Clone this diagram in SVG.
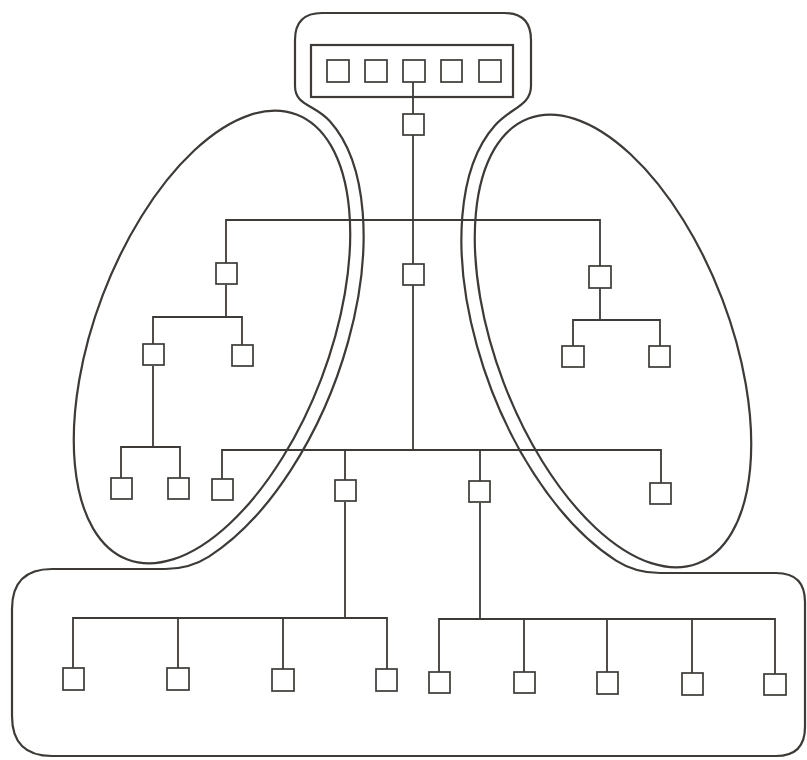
<svg xmlns="http://www.w3.org/2000/svg" width="807" height="760" viewBox="0 0 807 760">
<style>
.o{fill:none;stroke:#3d3a37;stroke-width:2.2}
.c{fill:none;stroke:#3d3a37;stroke-width:1.8}
.n{fill:#fff;stroke:#3d3a37;stroke-width:1.7}
</style>
<rect width="807" height="760" fill="#fff"/>
<g id="outlines">
<path class="o" d="M322,13 H504 Q531,13 531,40 V86 C531,106 510,108 494.9,125.5 A131,252 -20.8 0 0 616.1,560.6 C628.7,568.7 645,573 660,573 H776 Q805,573 805,602 V727 Q805,756 776,756 H52 Q12,756 12,716 V609 Q12,569 52,569 H165 C180,569 196.3,564.7 208.9,556.6 A131,252 20.8 0 0 330.1,121.5 C315,104 295,106 295,86 V40 Q295,13 322,13 Z"/>
<rect class="o" x="311" y="45" width="202" height="52"/>
<ellipse class="o" cx="212" cy="337" rx="117" ry="238" transform="rotate(20.8 212 337)"/>
<ellipse class="o" cx="613" cy="341" rx="117" ry="238" transform="rotate(-20.8 613 341)"/>
</g>
<g id="connectors">
<path class="c" d="M413,82 V450"/>
<path class="c" d="M226,263 V220 H600 V266"/>
<path class="c" d="M226,285 V317 M153,344 V317 H242 V345"/>
<path class="c" d="M153,366 V447 M121,478 V447 H180 V478"/>
<path class="c" d="M600,288 V320 M573,346 V320 H660 V346"/>
<path class="c" d="M222,479 V450 H661 V483 M345,450 V480 M480,450 V481"/>
<path class="c" d="M345,502 V618 M73,668 V618 H387 V669 M178,618 V668 M283,618 V669"/>
<path class="c" d="M480,503 V619 M439,672 V619 H775 V674 M524,619 V672 M607,619 V672 M692,619 V673"/>
</g>
<g id="t1"><rect class="n" x="327" y="60" width="22" height="22"/></g>
<g id="t2"><rect class="n" x="365" y="60" width="22" height="22"/></g>
<g id="t3"><rect class="n" x="403" y="60" width="22" height="22"/></g>
<g id="t4"><rect class="n" x="441" y="60" width="21" height="22"/></g>
<g id="t5"><rect class="n" x="479" y="60" width="22" height="22"/></g>
<g id="n1"><rect class="n" x="403" y="114" width="21" height="21"/></g>
<g id="n2"><rect class="n" x="403" y="264" width="21" height="21"/></g>
<g id="l1"><rect class="n" x="216" y="263" width="21" height="21"/></g>
<g id="l2"><rect class="n" x="143" y="344" width="21" height="21"/></g>
<g id="l3"><rect class="n" x="232" y="345" width="21" height="21"/></g>
<g id="l4"><rect class="n" x="111" y="478" width="21" height="21"/></g>
<g id="l5"><rect class="n" x="168" y="478" width="21" height="21"/></g>
<g id="r1"><rect class="n" x="589" y="266" width="22" height="22"/></g>
<g id="r2"><rect class="n" x="562" y="346" width="22" height="21"/></g>
<g id="r3"><rect class="n" x="649" y="346" width="21" height="21"/></g>
<g id="m1"><rect class="n" x="212" y="479" width="21" height="21"/></g>
<g id="m2"><rect class="n" x="335" y="480" width="21" height="21"/></g>
<g id="m3"><rect class="n" x="469" y="481" width="21" height="21"/></g>
<g id="m4"><rect class="n" x="650" y="483" width="21" height="21"/></g>
<g id="b1"><rect class="n" x="63" y="668" width="21" height="22"/></g>
<g id="b2"><rect class="n" x="167" y="668" width="22" height="22"/></g>
<g id="b3"><rect class="n" x="272" y="669" width="22" height="22"/></g>
<g id="b4"><rect class="n" x="376" y="669" width="21" height="22"/></g>
<g id="b5"><rect class="n" x="429" y="672" width="21" height="21"/></g>
<g id="b6"><rect class="n" x="514" y="672" width="21" height="21"/></g>
<g id="b7"><rect class="n" x="597" y="672" width="21" height="22"/></g>
<g id="b8"><rect class="n" x="682" y="673" width="21" height="22"/></g>
<g id="b9"><rect class="n" x="764" y="674" width="22" height="21"/></g>
</svg>
